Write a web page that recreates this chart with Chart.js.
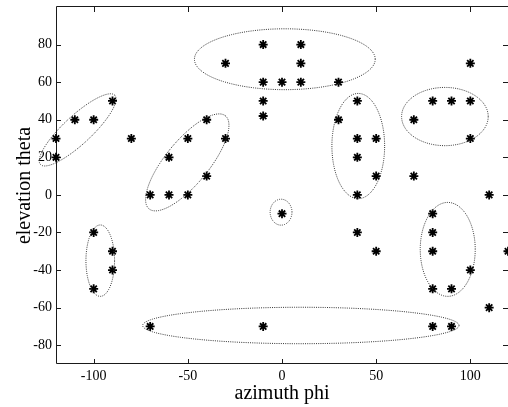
<!DOCTYPE html>
<html>
<head>
<meta charset="utf-8">
<script src="https://cdn.jsdelivr.net/npm/chart.js@4"></script>
<style>
html,body{margin:0;padding:0;background:#fff;overflow:hidden;}
#wrap{width:508px;height:407px;overflow:hidden;}
</style>
</head>
<body>
<div id="wrap"><canvas id="c" width="508" height="407"></canvas></div>
<script>
// Measured points (azimuth phi, elevation theta)
const phi = [
  -30,-10,10,10,-10,0,10,30,-10,-10,
  40,30,40,50,40,50,40,70,
  70,80,90,100,100,100,110,
  -120,-120,-110,-100,-90,-80,
  -40,-30,-50,-60,-40,-70,-60,-50,
  0,40,50,
  80,80,80,100,80,90,120,110,
  -70,-10,80,90,
  -100,-90,-90,-100
];
const theta = [
  70,80,80,70,60,60,60,60,50,42,
  50,40,30,30,20,10,0,10,
  40,50,50,50,30,70,0,
  30,20,40,40,50,30,
  40,30,30,20,10,0,0,0,
  -10,-20,-30,
  -10,-20,-30,-40,-50,-50,-30,-60,
  -70,-70,-70,-70,
  -20,-30,-40,-50
];
const xTicks = [-100,-50,0,50,100];
const yTicks = [-80,-60,-40,-20,0,20,40,60,80];

// Cluster ellipses: centre, semi-axes, rotation (deg)
const ellCx    = [1.5, 40.5, 86.5, -108.5, -50.3, -96.5, -0.5, 88, 10];
const ellCy    = [72.2, 26, 41.7, 34.6, 17.3, -35, -9.2, -29, -69.5];
const ellA     = [48, 14, 23, 27, 32, 7.6, 5.8, 14.6, 84];
const ellB     = [16.2, 28, 15.5, 7.5, 11.5, 19, 6.9, 25, 9.7];
const ellAngle = [0, 0, 0, 43, 50.7, 0, 0, 0, 0];

const pts = phi.map((p,i)=>({x:p, y:theta[i]}));

const boxPlugin = {
  id:'box',
  beforeDatasetsDraw(chart){
    const {ctx, chartArea:a, scales:{x,y}} = chart;
    ctx.save();
    ctx.strokeStyle = '#1a1a1a';
    ctx.lineWidth = 1;
    ctx.setLineDash([]);
    ctx.beginPath();
    ctx.rect(Math.round(a.left)+0.5, Math.round(a.top)-0.5, Math.round(a.right-a.left), Math.round(a.bottom-a.top));
    const L = 5;
    xTicks.forEach(v=>{
      const px = Math.round(x.getPixelForValue(v))+0.5;
      ctx.moveTo(px, a.bottom); ctx.lineTo(px, a.bottom-L);
      ctx.moveTo(px, a.top); ctx.lineTo(px, a.top+L);
    });
    yTicks.forEach(v=>{
      const py = Math.round(y.getPixelForValue(v))+0.5;
      ctx.moveTo(a.left, py); ctx.lineTo(a.left+L, py);
      ctx.moveTo(a.right, py); ctx.lineTo(a.right-L, py);
    });
    ctx.stroke();
    ctx.restore();
  }
};

const ellipsePlugin = {
  id:'ellipses',
  afterDatasetsDraw(chart){
    const {ctx, scales:{x,y}} = chart;
    ctx.save();
    ctx.strokeStyle = '#333';
    ctx.lineWidth = 1;
    ctx.setLineDash([1,1.2]);
    for (let i=0;i<ellCx.length;i++){
      const t = ellAngle[i]*Math.PI/180;
      ctx.beginPath();
      const N = 160;
      for (let k=0;k<=N;k++){
        const s = k/N*2*Math.PI;
        const u = ellA[i]*Math.cos(s), v = ellB[i]*Math.sin(s);
        const dx = ellCx[i] + u*Math.cos(t) - v*Math.sin(t);
        const dy = ellCy[i] + u*Math.sin(t) + v*Math.cos(t);
        const px = x.getPixelForValue(dx), py = y.getPixelForValue(dy);
        if (k===0) ctx.moveTo(px,py); else ctx.lineTo(px,py);
      }
      ctx.stroke();
    }
    ctx.restore();
  }
};

const serif = "'Liberation Serif','Times New Roman',serif";

new Chart(document.getElementById('c'), {
  type:'scatter',
  data:{datasets:[{
    data: pts,
    pointStyle:'star',
    pointRadius:4.5,
    pointHoverRadius:4.5,
    borderColor:'#000',
    backgroundColor:'#000',
    pointBorderWidth:1.8,
    clip:false
  }]},
  options:{
    responsive:false,
    animation:false,
    events:[],
    layout:{autoPadding:false, padding:{top:7,right:-1,left:0,bottom:0}},
    plugins:{legend:{display:false},tooltip:{enabled:false}},
    scales:{
      x:{
        type:'linear', min:-120, max:120,
        afterBuildTicks:s=>{s.ticks = xTicks.map(v=>({value:v}));},
        afterFit:s=>{s.height = 43; s.paddingLeft = 0; s.paddingRight = 0;},
        grid:{display:false, drawTicks:false},
        border:{display:false},
        ticks:{color:'#000', font:{family:serif,size:14}, padding:4, maxRotation:0, autoSkip:false},
        title:{display:true, text:'azimuth phi', color:'#000', font:{family:serif,size:20}, padding:{top:0,bottom:1}}
      },
      y:{
        type:'linear', min:-90, max:100,
        afterBuildTicks:s=>{s.ticks = yTicks.map(v=>({value:v}));},
        afterFit:s=>{s.width = 56; s.paddingTop = 0; s.paddingBottom = 0;},
        grid:{display:false, drawTicks:false},
        border:{display:false},
        ticks:{color:'#000', font:{family:serif,size:14}, padding:4, autoSkip:false},
        title:{display:true, text:'elevation theta', color:'#000', font:{family:serif,size:20}, padding:{top:13,bottom:0}}
      }
    }
  },
  plugins:[boxPlugin, ellipsePlugin]
});
</script>
</body>
</html>
